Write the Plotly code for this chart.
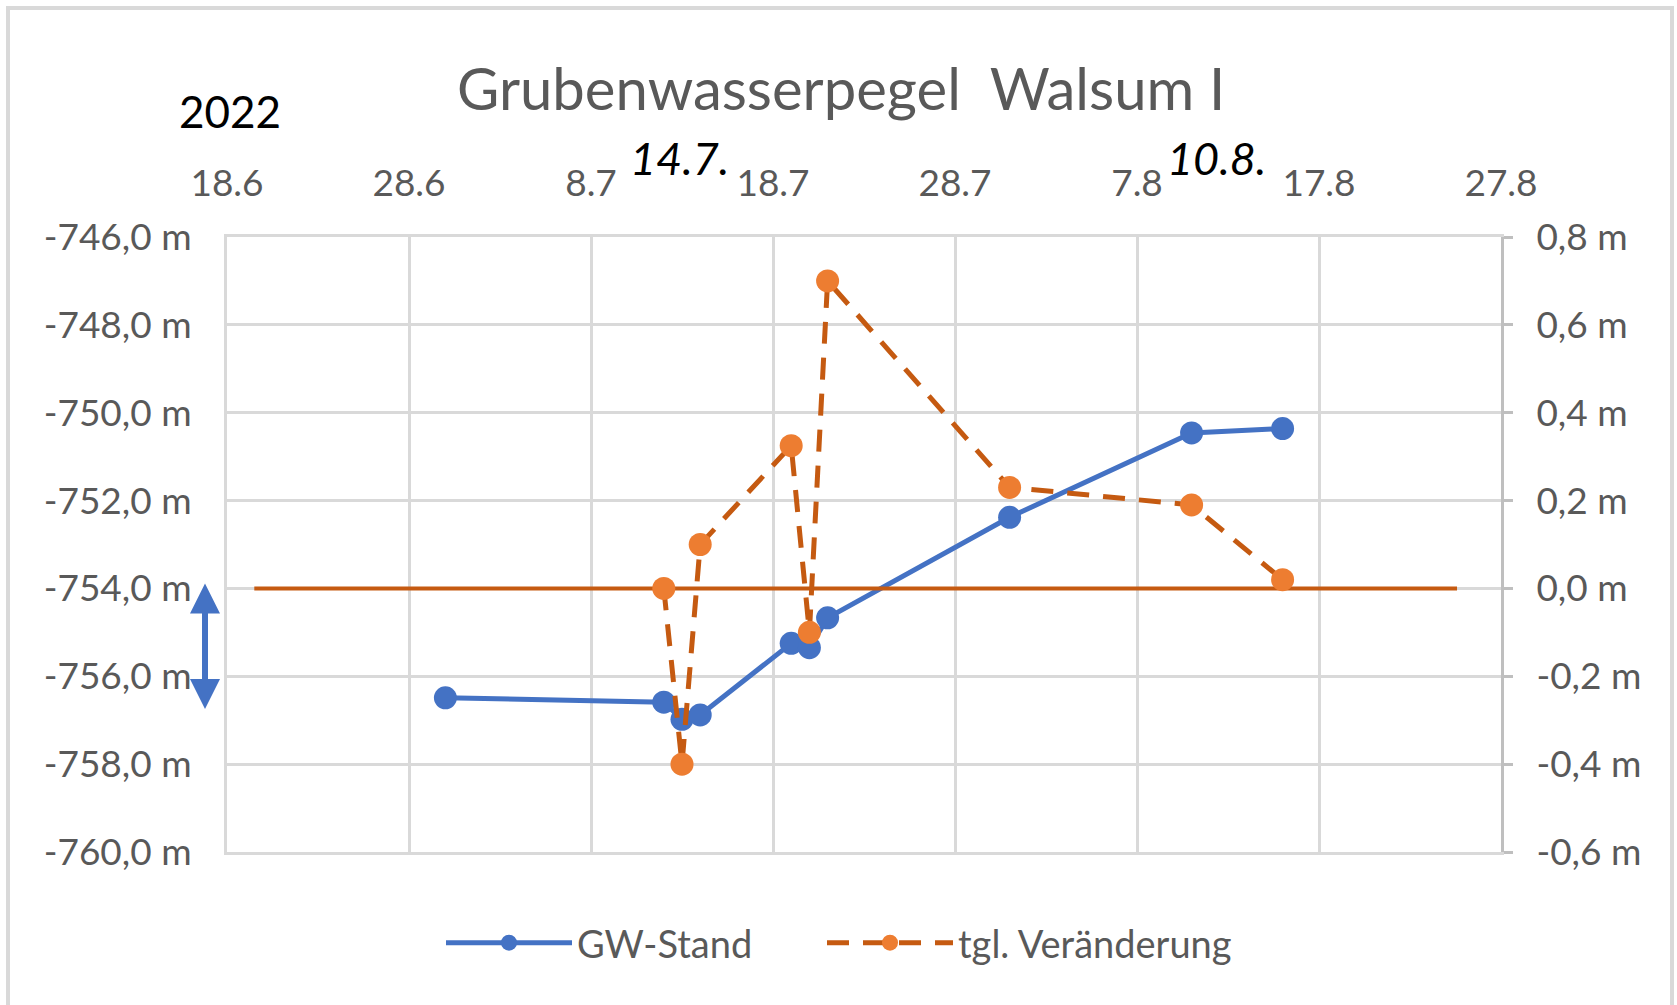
import plotly.graph_objects as go

# ---- data ----
dates = ["2022-06-30", "2022-07-12", "2022-07-13", "2022-07-14", "2022-07-19",
         "2022-07-20", "2022-07-21", "2022-07-31", "2022-08-10", "2022-08-15"]
gw_stand = [-756.49, -756.59, -756.98, -756.88, -755.25,
            -755.35, -754.67, -752.38, -750.46, -750.36]

change_dates = ["2022-07-12", "2022-07-13", "2022-07-14", "2022-07-19",
                "2022-07-20", "2022-07-21", "2022-07-31", "2022-08-10", "2022-08-15"]
tgl_change = [0.00, -0.40, 0.10, 0.325, -0.10, 0.70, 0.23, 0.19, 0.02]

zero_dates = ["2022-06-19 12:00", "2022-08-24 14:00"]
zero_values = [0, 0]

x_tick_dates = ["2022-06-18", "2022-06-28", "2022-07-08", "2022-07-18",
                "2022-07-28", "2022-08-07", "2022-08-17", "2022-08-27"]
x_tick_labels = ["18.6", "28.6", "8.7", "18.7", "28.7", "7.8", "17.8", "27.8"]

left_ticks = [-760, -758, -756, -754, -752, -750, -748, -746]
left_labels = ["-760,0 m", "-758,0 m", "-756,0 m", "-754,0 m",
               "-752,0 m", "-750,0 m", "-748,0 m", "-746,0 m"]
right_ticks = [-0.6, -0.4, -0.2, 0.0, 0.2, 0.4, 0.6, 0.8]
right_labels = ["-0,6 m", "-0,4 m", "-0,2 m", "0,0 m",
                "0,2 m", "0,4 m", "0,6 m", "0,8 m"]

# ---- style ----
FONT = "Lato, 'Open Sans', sans-serif"
GRAY_TXT = "#595959"
GRID = "#D9D9D9"
BLUE = "#4472C4"
ORANGE = "#ED7D31"
DARK_ORANGE = "#C55A11"

W, H = 1677, 1005
L, R, T, B = 227, 176, 237, 153
PW, PH = W - L - R, H - T - B


def px(x):
    return (x - L) / PW


def py(y):
    return (H - B - y) / PH


fig = go.Figure()

fig.add_trace(go.Scatter(
    x=zero_dates, y=zero_values, yaxis="y2", mode="lines",
    line=dict(color=DARK_ORANGE, width=4), showlegend=False, hoverinfo="skip"))

fig.add_trace(go.Scatter(
    x=dates, y=gw_stand, name="GW-Stand", mode="lines+markers",
    line=dict(color=BLUE, width=5), marker=dict(color=BLUE, size=23),
    legendwidth=240))

fig.add_trace(go.Scatter(
    x=change_dates, y=tgl_change, name="tgl. Veränderung", yaxis="y2",
    mode="lines+markers",
    line=dict(color=DARK_ORANGE, width=5, dash="22px,14px"),
    marker=dict(color=ORANGE, size=23),
    legendwidth=300))

fig.update_layout(
    width=W, height=H,
    margin=dict(l=L, r=R, t=T, b=B, pad=0),
    paper_bgcolor="white", plot_bgcolor="white",
    font=dict(family=FONT, size=37, color=GRAY_TXT),
    showlegend=True,
    legend=dict(orientation="h", x=px(852), xanchor="center",
                y=py(943), yanchor="middle",
                font=dict(size=38, color=GRAY_TXT), itemwidth=126,
                bgcolor="rgba(0,0,0,0)"),
    xaxis=dict(type="date", side="top",
               range=["2022-06-18", "2022-08-27"],
               tickvals=x_tick_dates, ticktext=x_tick_labels,
               showgrid=True, gridcolor=GRID, gridwidth=3,
               showline=True, mirror=True, linecolor=GRID, linewidth=3,
               zeroline=False, ticks="",
               ticklabelstandoff=23,
               tickfont=dict(size=37, color=GRAY_TXT)),
    yaxis=dict(range=[-760, -746], tickvals=left_ticks, ticktext=left_labels,
               showgrid=True, gridcolor=GRID, gridwidth=3,
               showline=True, mirror=True, linecolor=GRID, linewidth=3,
               zeroline=False, ticks="",
               ticklabelstandoff=25,
               tickfont=dict(size=37, color=GRAY_TXT)),
    yaxis2=dict(range=[-0.6, 0.8], tickvals=right_ticks, ticktext=right_labels,
                overlaying="y", side="right", showgrid=False, zeroline=False,
                showline=True, linecolor="#BFBFBF", linewidth=3,
                ticks="outside", ticklen=9, tickwidth=3, tickcolor="#BFBFBF",
                ticklabelstandoff=16,
                tickfont=dict(size=37, color=GRAY_TXT)),
)

# chart title
fig.add_annotation(text="Grubenwasserpegel  Walsum I", xref="paper", yref="paper",
                   x=px(841), y=py(87), xanchor="center", yanchor="middle",
                   showarrow=False, font=dict(size=58, color=GRAY_TXT, family=FONT))
# year label
fig.add_annotation(text="2022", xref="paper", yref="paper",
                   x=px(230), y=py(111), xanchor="center", yanchor="middle",
                   showarrow=False, font=dict(size=44, color="black", family=FONT))
# date markers
fig.add_annotation(text="<i>14.7.</i>", xref="paper", yref="paper",
                   x=px(679), y=py(158), xanchor="center", yanchor="middle",
                   showarrow=False, font=dict(size=45, color="black", family=FONT))
fig.add_annotation(text="<i>10.8.</i>", xref="paper", yref="paper",
                   x=px(1216), y=py(158), xanchor="center", yanchor="middle",
                   showarrow=False, font=dict(size=45, color="black", family=FONT))
# double arrow
fig.add_annotation(text="", xref="paper", yref="paper",
                   x=px(205), y=py(709), ax=0, ay=-127,
                   showarrow=True, arrowhead=2, arrowside="end+start",
                   arrowsize=1.0, arrowwidth=6, arrowcolor=BLUE)

# outer frame
fig.add_shape(type="rect", xref="paper", yref="paper",
              x0=px(8), x1=px(1672), y0=py(1030), y1=py(8),
              line=dict(color=GRID, width=4), layer="below")

fig.write_html("out.html", config={"displayModeBar": False},
               post_script="document.body.style.margin='0';document.body.style.overflow='hidden';")
